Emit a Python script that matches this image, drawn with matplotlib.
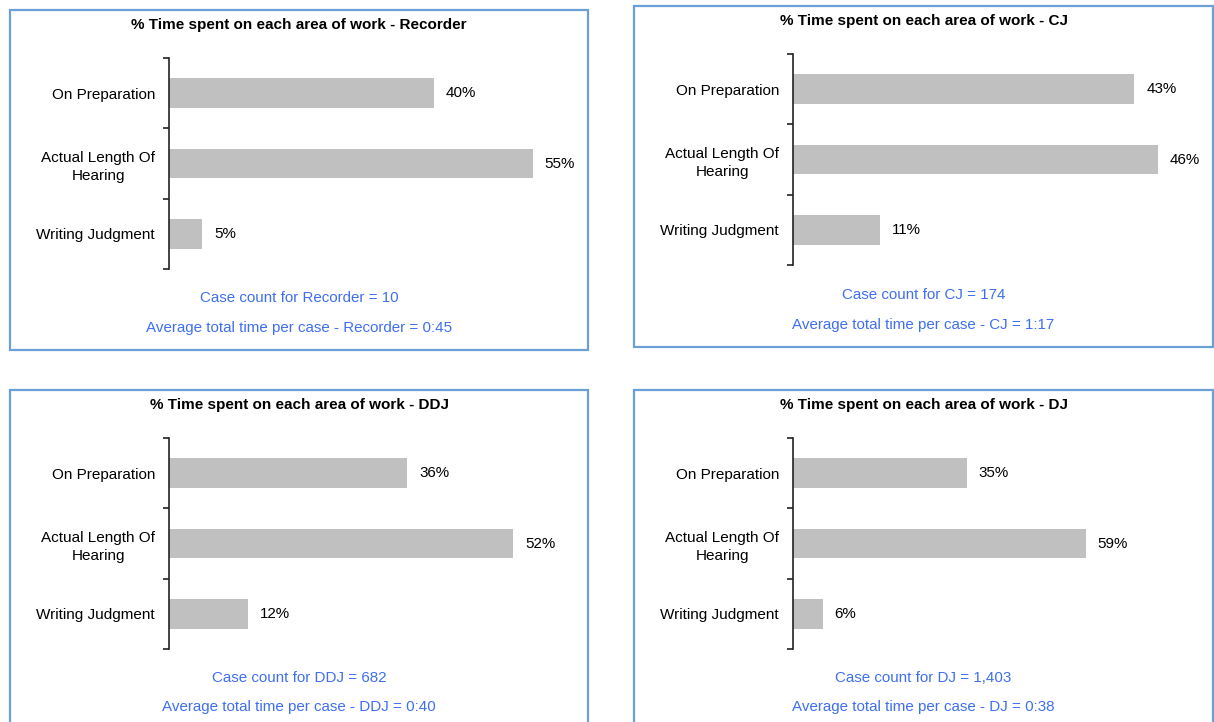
import matplotlib.pyplot as plt
from matplotlib.patches import Rectangle

plt.rcParams["font.family"] = ["Liberation Sans", "DejaVu Sans"]

# data
categories = ["On Preparation", "Actual Length Of\nHearing", "Writing Judgment"]
roles = ["Recorder", "CJ", "DDJ", "DJ"]
pct_recorder = [40, 55, 5]
pct_cj = [43, 46, 11]
pct_ddj = [36, 52, 12]
pct_dj = [35, 59, 6]
case_counts = ["10", "174", "682", "1,403"]
avg_times = ["0:45", "1:17", "0:40", "0:38"]
x_max = [60, 50, 60, 80]

W, H = 1214, 722
BAR_COLOR = "#c0c0c0"
BOX_COLOR = "#6a9fd8"
NOTE_COLOR = "#3f6ff0"

# panel layout in pixels: box (x0, y0, x1, y1), axes left, axes top
panels = [
    dict(box=(10, 10, 588, 350), ax_left=169, ax_top=58, title_y=25, note_y=(298, 328)),
    dict(box=(634, 6, 1213, 347), ax_left=793, ax_top=54, title_y=21, note_y=(295, 325)),
    dict(box=(10, 390, 588, 760), ax_left=169, ax_top=438, title_y=405, note_y=(678, 707)),
    dict(box=(634, 390, 1213, 760), ax_left=793, ax_top=438, title_y=405, note_y=(678, 707)),
]
AX_W, AX_H = 397, 211


def fx(x):
    return x / W


def fy(y):
    return 1 - y / H


fig = plt.figure(figsize=(W / 100, H / 100), dpi=100)

for role, values, count, avg, xm, p in zip(
    roles, [pct_recorder, pct_cj, pct_ddj, pct_dj], case_counts, avg_times, x_max, panels
):
    x0, y0, x1, y1 = p["box"]
    fig.patches.append(Rectangle((fx(x0), fy(y1)), fx(x1 - x0), (y1 - y0) / H,
                                 transform=fig.transFigure, fill=False,
                                 edgecolor=BOX_COLOR, linewidth=1.6))
    cx = fx((x0 + x1) / 2)
    fig.text(cx, fy(p["title_y"]), f"% Time spent on each area of work - {role}",
             ha="center", va="center", fontsize=11, fontweight="bold")
    fig.text(cx, fy(p["note_y"][0]), f"Case count for {role} = {count}",
             ha="center", va="center", fontsize=10.9, color=NOTE_COLOR)
    fig.text(cx, fy(p["note_y"][1]), f"Average total time per case - {role} = {avg}",
             ha="center", va="center", fontsize=10.9, color=NOTE_COLOR)

    ax = fig.add_axes([fx(p["ax_left"]), fy(p["ax_top"] + AX_H), AX_W / W, AX_H / H])
    pos = list(range(len(categories)))
    bars = ax.barh(pos, values, height=0.42, color=BAR_COLOR)
    ax.bar_label(bars, labels=[f"{v}%" for v in values], padding=8.5, fontsize=10.9)
    ax.set_xlim(0, xm)
    ax.set_ylim(2.5, -0.5)
    for side in ["top", "right", "bottom"]:
        ax.spines[side].set_visible(False)
    ax.spines["left"].set_linewidth(1.2)
    ax.spines["left"].set_color("#222222")
    ax.set_xticks([])
    ax.set_yticks([-0.5, 0.5, 1.5, 2.5])
    ax.set_yticklabels([])
    ax.tick_params(axis="y", which="major", direction="out", length=4, width=1.2, color="#222222")
    ax.set_yticks(pos, minor=True)
    ax.set_yticklabels(categories, minor=True, fontsize=11)
    ax.tick_params(axis="y", which="minor", length=0, pad=10)
    for lbl in ax.get_yticklabels(minor=True):
        lbl.set_multialignment("center")
        lbl.set_linespacing(1.35)

fig.savefig("out.png", dpi=100)
